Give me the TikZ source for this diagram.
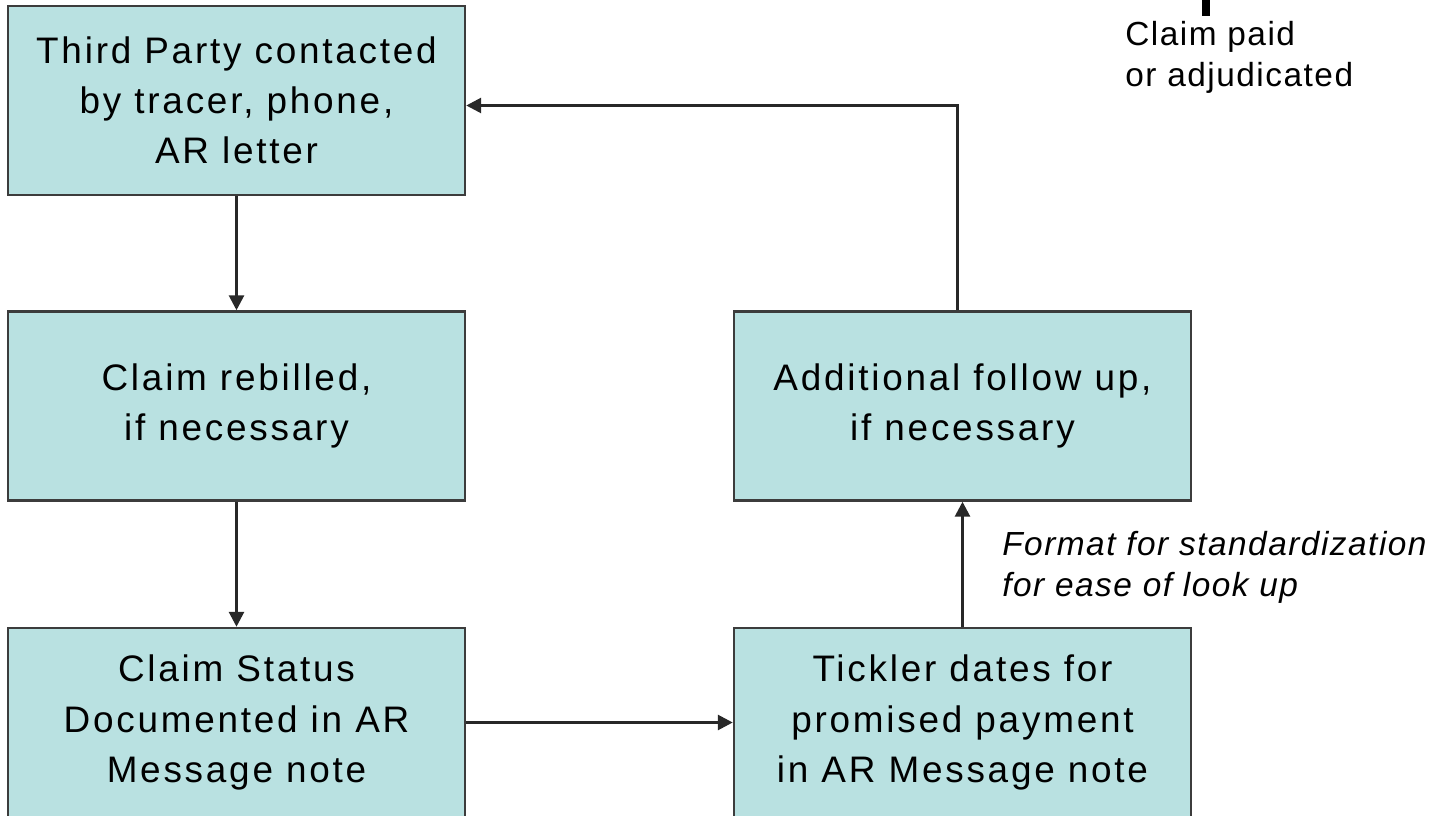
\documentclass[tikz,border=0pt]{standalone}
\usepackage{fontspec}
\usepackage{tikz}
\usetikzlibrary{arrows.meta}
\setmainfont{Liberation Sans}
\newfontfamily\boxfont[LetterSpace=7.5]{Liberation Sans}
\newfontfamily\remarkfont[LetterSpace=4.5]{Liberation Sans}
\definecolor{boxfill}{RGB}{185,225,225}
\definecolor{boxline}{RGB}{60,60,60}
\definecolor{arrline}{RGB}{40,40,40}
\tikzset{
  stepbox/.style={draw=boxline, line width=1.4pt, fill=boxfill, minimum width=9.14cm,
    minimum height=3.78cm, align=center, inner sep=0pt,
    font=\boxfont\fontsize{21}{28.5}\selectfont},
  arr/.style={draw=arrline, line width=1.6pt, -{Triangle[width=8.5pt,length=8.5pt]}},
  remark/.style={align=left, inner sep=0pt, font=\remarkfont\fontsize{19}{23.5}\selectfont}
}

\begin{document}
\begin{tikzpicture}
\useasboundingbox (0,0) rectangle (28.86,-16.32);
\clip (0,0) rectangle (28.86,-16.32);
% boxes
\node (third) at (4.73,-2.01) [stepbox] {Third Party contacted\\by tracer, phone,\\AR letter};
\node (rebill) at (4.73,-8.12) [stepbox] {Claim rebilled,\\if necessary};
\node (status) at (4.73,-14.45) [stepbox] {Claim Status\\Documented in AR\\Message note};
\node (tickler) at (19.25,-14.45) [stepbox] {Tickler dates for\\promised payment\\in AR Message note};
\node (follow) at (19.25,-8.12) [stepbox] {Additional follow up,\\if necessary};
% side texts
\node (paid) at (22.5,-1.74) [remark, anchor=base west] {Claim paid\\or adjudicated};
\node (format) at (20.04,-11.94) [remark, anchor=base west] {\itshape Format for standardization\\\itshape for ease of look up};
\fill (24.04,0) rectangle (24.2,-0.32);
% connectors
\draw[arr] (third) -- (rebill);
\draw[arr] (rebill) -- (status);
\draw[arr] (status) -- (tickler);
\draw[arr] (tickler) -- (follow);
\draw[arr] ([xshift=-0.1cm]follow.north) |- ([yshift=-0.1cm]third.east);
\end{tikzpicture}
\end{document}
